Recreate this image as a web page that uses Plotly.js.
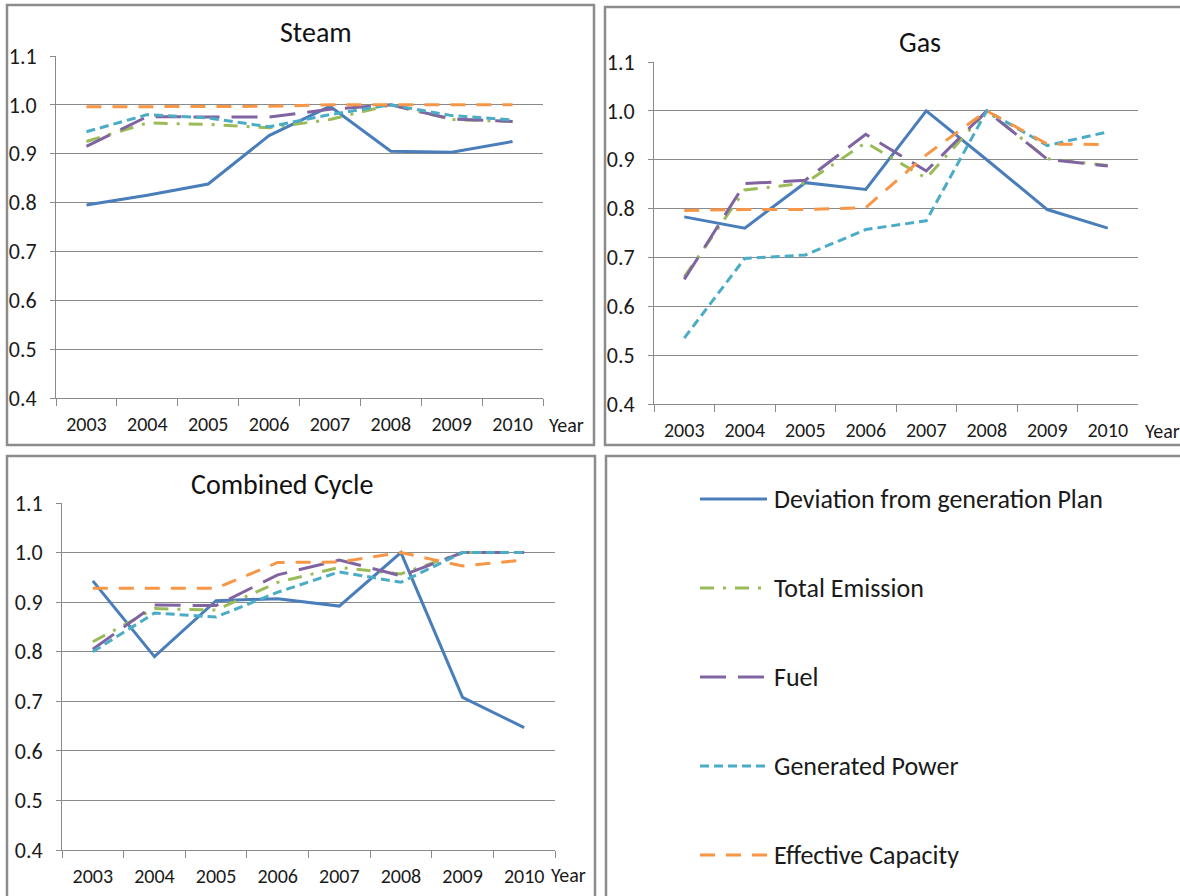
<!DOCTYPE html>
<html>
<head>
<meta charset="utf-8">
<script src="https://cdn.plot.ly/plotly-3.0.1.min.js"></script>
<style>
html,body{margin:0;padding:0;background:#fff;}
#chart{width:1180px;height:896px;}
</style>
</head>
<body>
<div id="chart"></div>
<script>
// ---- data ----
const years = ["2003","2004","2005","2006","2007","2008","2009","2010"];
const seriesNames = ["Deviation from generation Plan","Total Emission","Fuel","Generated Power","Effective Capacity"];
const panelTitles = ["Steam","Gas","Combined Cycle"];

const steamDeviation = [0.795,0.815,0.838,0.937,0.997,0.905,0.903,0.925];
const steamEmission  = [0.925,0.963,0.960,0.953,0.970,1.000,0.970,0.966];
const steamFuel      = [0.915,0.976,0.975,0.975,0.991,1.000,0.971,0.966];
const steamPower     = [0.945,0.980,0.973,0.955,0.980,1.000,0.978,0.969];
const steamCapacity  = [0.996,0.996,0.996,0.997,1.000,1.000,1.000,1.000];

const gasDeviation = [0.783,0.760,0.853,0.839,1.000,0.900,0.798,0.760];
const gasEmission  = [0.660,0.838,0.852,0.935,0.862,1.000,0.902,0.888];
const gasFuel      = [0.655,0.851,0.858,0.952,0.877,1.000,0.901,0.887];
const gasPower     = [0.535,0.698,0.705,0.757,0.775,1.000,0.929,0.957];
const gasCapacity  = [0.796,0.798,0.798,0.802,0.910,1.000,0.932,0.931];

const ccDeviation = [0.943,0.790,0.903,0.907,0.892,1.000,0.708,0.647];
const ccEmission  = [0.820,0.887,0.884,0.940,0.970,0.957,1.000,1.000];
const ccFuel      = [0.805,0.894,0.893,0.955,0.985,0.953,1.000,1.000];
const ccPower     = [0.800,0.878,0.870,0.920,0.961,0.940,1.000,1.000];
const ccCapacity  = [0.928,0.928,0.928,0.980,0.981,1.000,0.973,0.985];

// ---- styles ----
const seriesStyles = [
  {color:"#4A7EBB", dash:"solid"},
  {color:"#9BBB59", dash:"14px,9px,3px,9px"},
  {color:"#8064A2", dash:"26px,12px"},
  {color:"#4BACC6", dash:"9px,5px"},
  {color:"#F79646", dash:"15px,11px"}
];
const FONT = "Carlito, Calibri, Lato, 'Open Sans', sans-serif";
const GRID = "#8a8a8a";
const W = 1180, H = 896;
const px = x => x / W;
const py = y => 1 - y / H;

const panels = [
  {data:[steamDeviation,steamEmission,steamFuel,steamPower,steamCapacity], x0:56, x1:543, y0:56, y1:398, title:[316,33], year:[547,425]},
  {data:[gasDeviation,gasEmission,gasFuel,gasPower,gasCapacity], x0:654, x1:1138, y0:62, y1:404, title:[920,43], year:[1143,431]},
  {data:[ccDeviation,ccEmission,ccFuel,ccPower,ccCapacity], x0:62, x1:555, y0:503, y1:850, title:[282,484], year:[549,875]}
];

const traces = [];
const layout = {
  width: W, height: H,
  margin: {l:0, r:0, t:0, b:0},
  paper_bgcolor: "#fff", plot_bgcolor: "#fff",
  showlegend: false,
  font: {family: FONT, color: "#1a1a1a"},
  annotations: [], shapes: []
};

panels.forEach((p, k) => {
  const n = k === 0 ? "" : String(k + 1);
  const xa = "x" + n, ya = "y" + n;
  p.data.forEach((vals, i) => {
    traces.push({
      type: "scatter", mode: "lines",
      x: years, y: vals, name: seriesNames[i],
      xaxis: xa, yaxis: ya,
      line: {color: seriesStyles[i].color, dash: seriesStyles[i].dash, width: 3},
      hoverinfo: "x+y+name"
    });
  });
  layout["xaxis" + n] = {
    domain: [px(p.x0), px(p.x1)], anchor: ya,
    type: "category", categoryarray: years, range: [-0.5, 7.5],
    tickson: "boundaries", ticks: "outside", ticklen: 7, tickcolor: GRID, tickwidth: 1,
    showline: true, linecolor: GRID, linewidth: 1, showgrid: false, zeroline: false,
    tickfont: {family: FONT, size: 20, color: "#1a1a1a"}, ticklabelstandoff: 8
  };
  layout["yaxis" + n] = {
    domain: [py(p.y1), py(p.y0)], anchor: xa,
    range: [0.4, 1.1], tick0: 0.4, dtick: 0.1, tickformat: ".1f",
    ticks: "outside", ticklen: 5, tickcolor: GRID, tickwidth: 1,
    showline: true, linecolor: GRID, linewidth: 1,
    showgrid: true, gridcolor: GRID, gridwidth: 1, zeroline: false,
    tickfont: {family: FONT, size: 22, color: "#1a1a1a"}, ticklabelstandoff: 9
  };
  layout.annotations.push({
    xref: "paper", yref: "paper", x: px(p.title[0]), y: py(p.title[1]),
    xanchor: "center", yanchor: "middle", showarrow: false,
    text: panelTitles[k], font: {family: FONT, size: 28, color: "#111"}
  });
  layout.annotations.push({
    xref: "paper", yref: "paper", x: px(p.year[0]), y: py(p.year[1]),
    xanchor: "left", yanchor: "middle", showarrow: false,
    text: "Year", font: {family: FONT, size: 20, color: "#1a1a1a"}
  });
});

// panel frames
const frames = [[7,5,594,445],[605,7,1190,445],[7,456,595,900],[606,456,1190,900]];
frames.forEach(f => {
  layout.shapes.push({
    type: "rect", xref: "paper", yref: "paper",
    x0: px(f[0]), x1: px(f[2]), y0: py(f[3]), y1: py(f[1]),
    line: {color: "#8c8c8c", width: 2.5}, fillcolor: "rgba(0,0,0,0)"
  });
});

// legend panel
seriesNames.forEach((name, i) => {
  const yy = 499 + 89 * i;
  layout.shapes.push({
    type: "line", xref: "paper", yref: "paper",
    x0: px(700), x1: px(767), y0: py(yy), y1: py(yy),
    line: {color: seriesStyles[i].color, dash: seriesStyles[i].dash, width: 3}
  });
  layout.annotations.push({
    xref: "paper", yref: "paper", x: px(772), y: py(yy),
    xanchor: "left", yanchor: "middle", showarrow: false,
    text: name, font: {family: FONT, size: 26, color: "#1a1a1a"}
  });
});

Plotly.newPlot("chart", traces, layout, {displayModeBar: false, staticPlot: true});
</script>
</body>
</html>
